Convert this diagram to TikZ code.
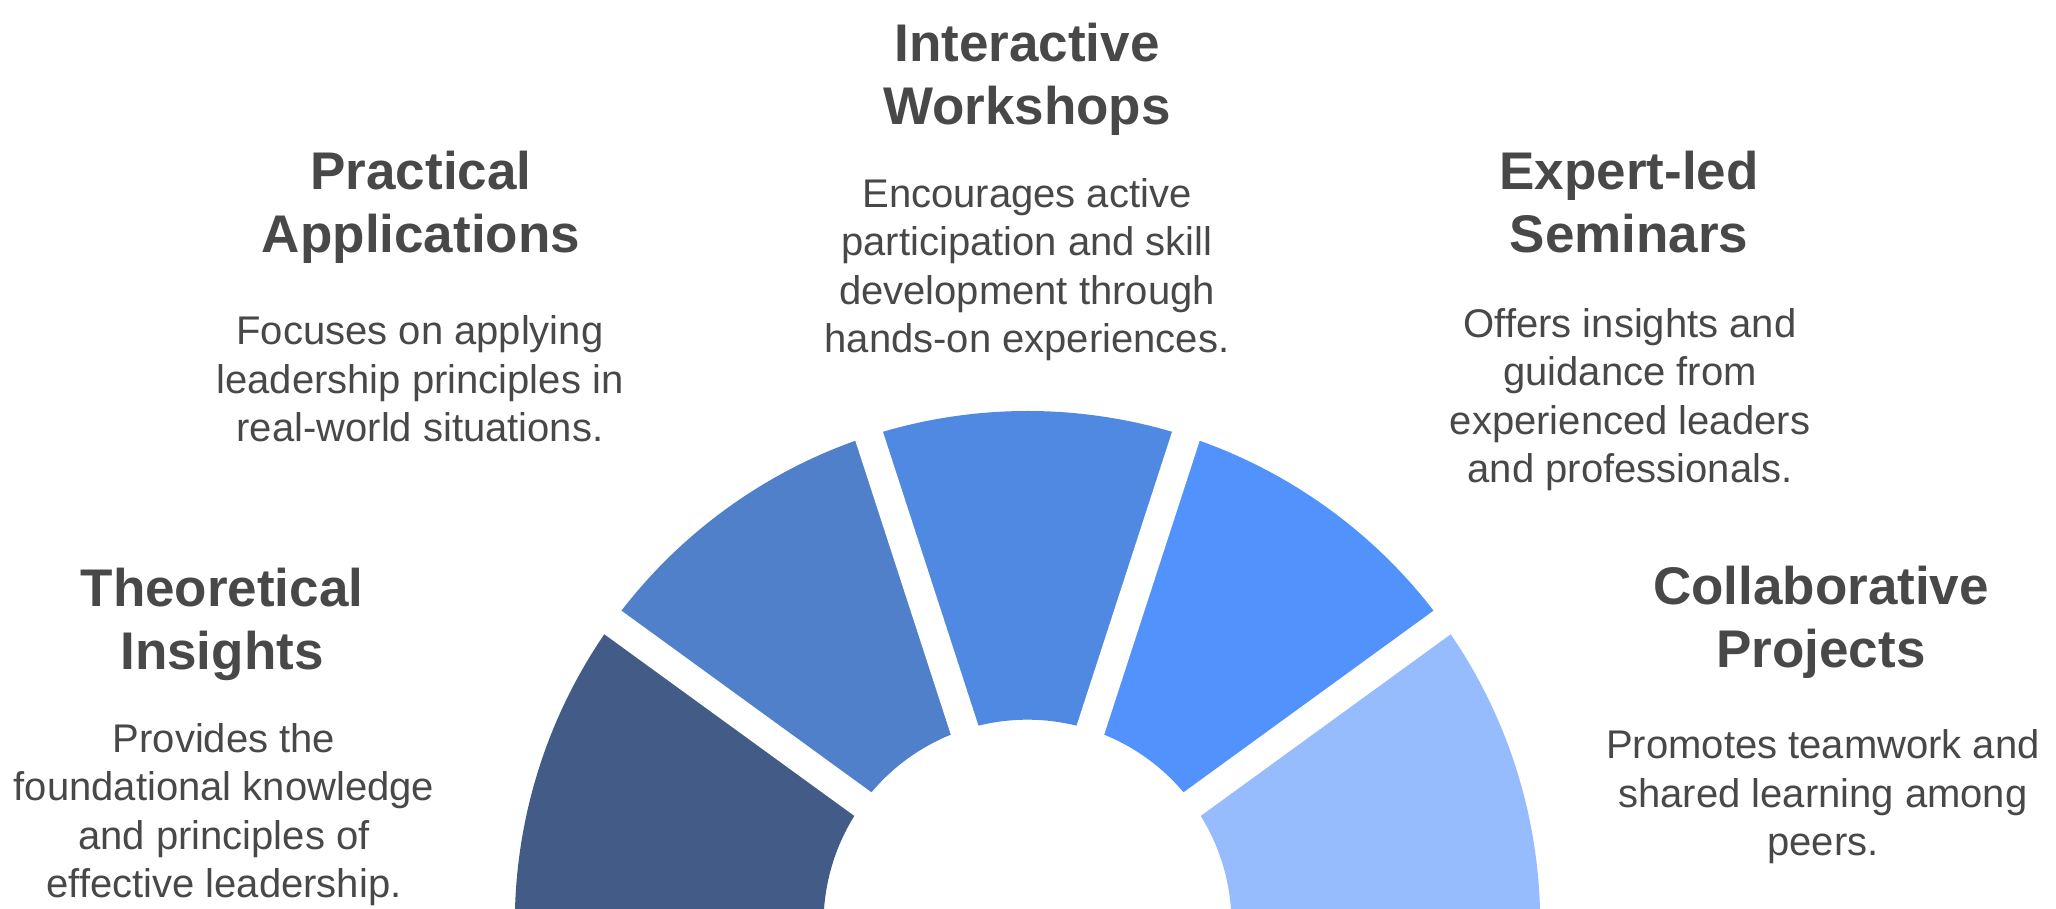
\documentclass[tikz,border=0pt]{standalone}
\usepackage{fontspec}
\setmainfont{Liberation Sans}
\definecolor{txt}{HTML}{484848}
\definecolor{segA}{HTML}{435C87}
\definecolor{segB}{HTML}{5180CB}
\definecolor{segC}{HTML}{4F89E2}
\definecolor{segD}{HTML}{5192FD}
\definecolor{segE}{HTML}{96BCFD}
\tikzset{
  ttl/.style={anchor=base, align=center, inner sep=0pt, text=txt, font=\fontsize{53}{63}\selectfont\bfseries},
  dsc/.style={anchor=base, align=center, inner sep=0pt, text=txt, font=\fontsize{40}{48.5}\selectfont},
}
\begin{document}
\begin{tikzpicture}[x=1pt,y=1pt]
\useasboundingbox (0,0) rectangle (2056,909);
\clip (0,0) rectangle (2056,909);
\fill[white] (0,0) rectangle (2056,909);
\coordinate (C) at (1027.5,-14.7);
\begin{scope}[shift={(C)}]
  \def\RR{512.7}
  \def\rr{204}
  \foreach \a/\b/\c in {180/144/segA, 144/108/segB, 108/72/segC, 72/36/segD, 36/0/segE}{
    \fill[\c] (\a:\RR) arc[start angle=\a, end angle=\b, radius=\RR] -- (\b:\rr) arc[start angle=\b, end angle=\a, radius=\rr] -- cycle;
  }
  \foreach \a in {36,72,108,144}{
    \draw[white, line width=29pt] (0,0) -- (\a:530);
  }
\end{scope}
% anchor=base of a multi-line node is the baseline of its last line
\node[ttl] (t1) at (222,239) {Theoretical\\Insights};
\node[dsc] (d1) at (224,11) {Provides the\\foundational knowledge\\and principles of\\effective leadership.};
\node[ttl] (t2) at (421,656) {Practical\\Applications};
\node[dsc] (d2) at (420,467) {Focuses on applying\\leadership principles in\\real-world situations.};
\node[ttl] (t3) at (1027,784) {Interactive\\Workshops};
\node[dsc] (d3) at (1027,556) {Encourages active\\participation and skill\\development through\\hands-on experiences.};
\node[ttl] (t4) at (1629,656) {Expert-led\\Seminars};
\node[dsc] (d4) at (1630,426) {Offers insights and\\guidance from\\experienced leaders\\and professionals.};
\node[ttl] (t5) at (1821,241) {Collaborative\\Projects};
\node[dsc] (d5) at (1823,53) {Promotes teamwork and\\shared learning among\\peers.};
\end{tikzpicture}
\end{document}
